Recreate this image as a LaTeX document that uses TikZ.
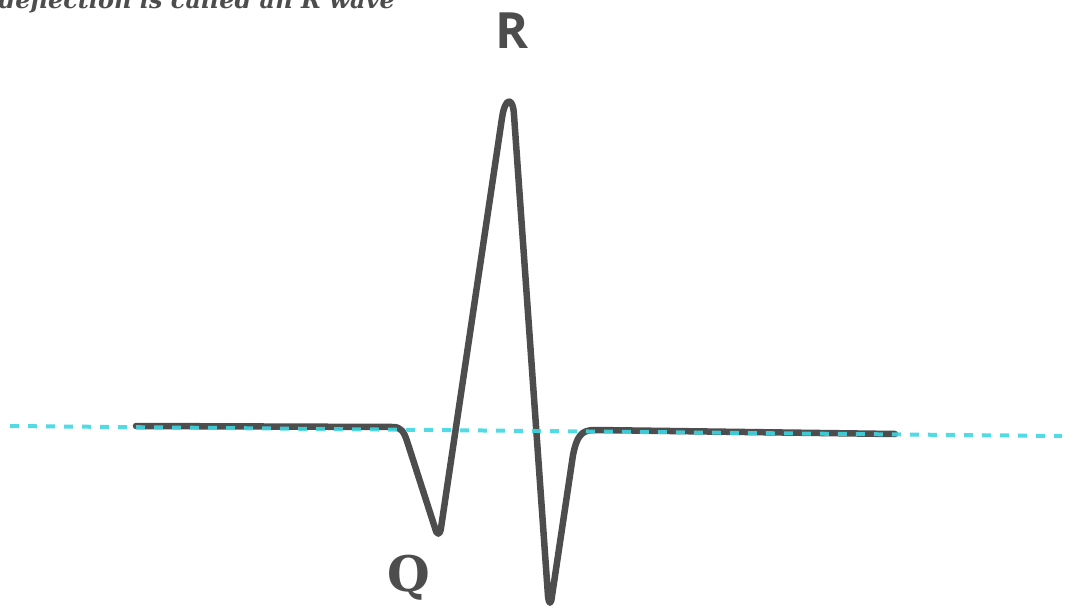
\documentclass[tikz,border=0pt]{standalone}
\usepackage{fontspec}
\setmainfont{DejaVu Serif}
\newfontfamily\lblsans{Open Sans}
\newfontfamily\lblserif{DejaVu Serif}
\definecolor{wavegray}{HTML}{4D4D4D}
\definecolor{basecyan}{HTML}{3FD6E2}
\tikzset{
  wave/.style={draw=wavegray, line width=6.5pt, line cap=round, line join=round},
  baseline/.style={draw=basecyan, line width=4pt, dash pattern=on 9pt off 9pt, opacity=0.9},
  lbl/.style={text=wavegray, inner sep=0pt}
}
\begin{document}
\begin{tikzpicture}[x=1pt,y=-1pt]
\useasboundingbox (0,0) rectangle (1068,607);
\node[lbl, anchor=base east, font=\lblserif\bfseries\itshape\fontsize{24}{27}\selectfont] (caption) at (395,9) {deflection is called an R wave};
\node[lbl, font=\lblsans\bfseries\fontsize{50}{55}\selectfont] (rlabel) at (512,31) {R};
\node[lbl, font=\lblserif\bfseries\fontsize{49}{53}\selectfont] (qlabel) at (409,578) {Q};
\draw[wave] (136,426) -- (393,427)
  .. controls (401,427) and (404,432) .. (407,441)
  -- (435,528) .. controls (437,536) and (440,535) .. (441,528)
  -- (502,118) .. controls (505,97) and (513,96) .. (514,115)
  -- (548,596) .. controls (549,605) and (551,605) .. (552,596)
  -- (573,455) .. controls (577,436) and (581,430) .. (595,430)
  -- (895,434);
\coordinate (bl) at (10,426);
\coordinate (br) at (1062,436);
\draw[baseline] (bl) -- (br);
\end{tikzpicture}
\end{document}
